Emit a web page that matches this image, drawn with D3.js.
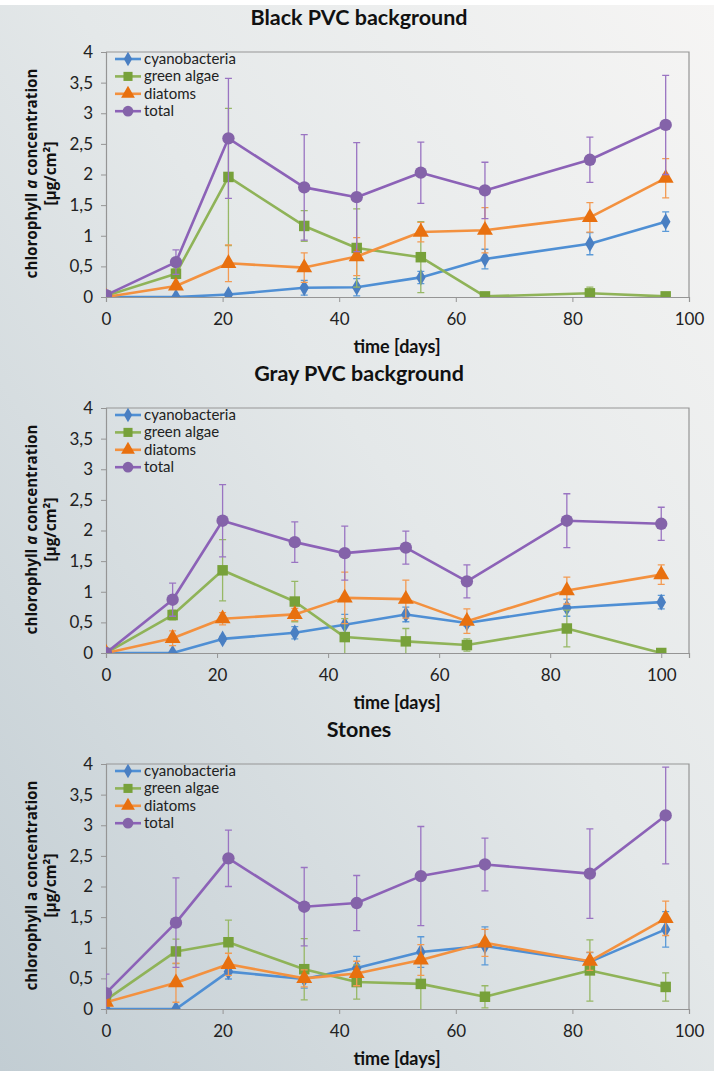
<!DOCTYPE html>
<html>
<head>
<meta charset="utf-8">
<script src="https://cdn.jsdelivr.net/npm/d3@7"></script>
<style>
  html, body { margin: 0; padding: 0; background: #ffffff; }
  svg { display: block; }
</style>
</head>
<body>
<script>
// ---- data -------------------------------------------------------------
const seriesNames = ["cyanobacteria", "green algae", "diatoms", "total"];
const panelTitles = ["Black PVC background", "Gray PVC background", "Stones"];
const xTicks = [0, 20, 40, 60, 80, 100];
const yTicks = [0, 0.5, 1, 1.5, 2, 2.5, 3, 3.5, 4];

// Black PVC background
const daysBlack = [0, 12, 21, 34, 43, 54, 65, 83, 96];
const cyanoBlack = [0, 0, 0.04, 0.15, 0.16, 0.32, 0.62, 0.87, 1.23];
const cyanoBlackErr = [0.01, 0.01, 0.03, 0.12, 0.14, 0.10, 0.16, 0.18, 0.16];
const greenBlack = [0.02, 0.38, 1.96, 1.16, 0.80, 0.65, 0.01, 0.06, 0.01];
const greenBlackErr = [0.01, 0.08, 1.12, 0.25, 0.64, 0.58, 0.02, 0.10, 0.02];
const diatomsBlack = [0, 0.18, 0.55, 0.48, 0.66, 1.06, 1.09, 1.30, 1.94];
const diatomsBlackErr = [0.01, 0.04, 0.30, 0.24, 0.31, 0.16, 0.37, 0.24, 0.32];
const totalBlack = [0.03, 0.57, 2.59, 1.79, 1.63, 2.03, 1.74, 2.24, 2.81];
const totalBlackErr = [0.02, 0.20, 0.98, 0.86, 0.89, 0.50, 0.46, 0.37, 0.81];

// Gray PVC background
const daysGray = [0, 12, 21, 34, 43, 54, 65, 83, 100];
const cyanoGray = [0, 0, 0.23, 0.33, 0.46, 0.63, 0.49, 0.74, 0.83];
const cyanoGrayErr = [0, 0.01, 0.04, 0.10, 0.17, 0.12, 0.05, 0.14, 0.11];
const greenGray = [0, 0.62, 1.35, 0.84, 0.26, 0.19, 0.13, 0.40, 0];
const greenGrayErr = [0, 0.08, 0.50, 0.33, 0.30, 0.21, 0.10, 0.30, 0.01];
const diatomsGray = [0, 0.24, 0.56, 0.63, 0.90, 0.88, 0.52, 1.02, 1.28];
const diatomsGrayErr = [0, 0.12, 0.10, 0.10, 0.42, 0.31, 0.20, 0.22, 0.16];
const totalGray = [0, 0.87, 2.16, 1.81, 1.63, 1.72, 1.17, 2.16, 2.11];
const totalGrayErr = [0, 0.27, 0.59, 0.33, 0.44, 0.27, 0.27, 0.44, 0.27];

// Stones
const daysStones = [0, 12, 21, 34, 43, 54, 65, 83, 96];
const cyanoStones = [0, 0, 0.61, 0.49, 0.67, 0.93, 1.03, 0.77, 1.30];
const cyanoStonesErr = [0.01, 0.01, 0.12, 0.15, 0.19, 0.25, 0.31, 0.15, 0.29];
const greenStones = [0.15, 0.94, 1.09, 0.65, 0.44, 0.41, 0.20, 0.63, 0.36];
const greenStonesErr = [0.10, 0.20, 0.36, 0.50, 0.28, 0.42, 0.18, 0.50, 0.23];
const diatomsStones = [0.11, 0.43, 0.73, 0.50, 0.58, 0.80, 1.08, 0.78, 1.48];
const diatomsStonesErr = [0.03, 0.32, 0.18, 0.14, 0.20, 0.25, 0.22, 0.15, 0.28];
const totalStones = [0.26, 1.41, 2.46, 1.67, 1.73, 2.17, 2.36, 2.21, 3.16];
const totalStonesErr = [0.31, 0.73, 0.46, 0.64, 0.45, 0.81, 0.43, 0.73, 0.79];

// ---- layout / style ---------------------------------------------------
const W = 714, H = 1071;
const lineColors   = ["#4f8fd4", "#8fb358", "#f3913f", "#8c62b7"];
const markerColors = ["#4a7fc2", "#77a13a", "#e8700f", "#8463a9"];
const errColors    = ["#5b9ad8", "#97b866", "#f39a52", "#9a74c2"];
const markerShapes = [d3.symbolDiamond, d3.symbolSquare, d3.symbolTriangle, d3.symbolCircle];
const markerSizes  = [80, 110, 110, 120];

const panels = [
  { title: panelTitles[0], top: 52,  xMax: 100, italicA: true,
    days: daysBlack,
    values: [cyanoBlack, greenBlack, diatomsBlack, totalBlack],
    errors: [cyanoBlackErr, greenBlackErr, diatomsBlackErr, totalBlackErr] },
  { title: panelTitles[1], top: 408, xMax: 105, italicA: true,
    days: daysGray,
    values: [cyanoGray, greenGray, diatomsGray, totalGray],
    errors: [cyanoGrayErr, greenGrayErr, diatomsGrayErr, totalGrayErr] },
  { title: panelTitles[2], top: 764, xMax: 100, italicA: false,
    days: daysStones,
    values: [cyanoStones, greenStones, diatomsStones, totalStones],
    errors: [cyanoStonesErr, greenStonesErr, diatomsStonesErr, totalStonesErr] }
];

const plotLeft = 106, plotRight = 689, plotH = 245;
const textFont = "Lato, 'Open Sans', sans-serif";
const labelFont = "'Open Sans', sans-serif";

const svg = d3.select("body").append("svg")
  .attr("width", W).attr("height", H)
  .attr("viewBox", `0 0 ${W} ${H}`);

// soft diagonal backdrop
const defs = svg.append("defs");
const grad = defs.append("linearGradient")
  .attr("id", "bg").attr("x1", "1").attr("y1", "0").attr("x2", "0").attr("y2", "1");
grad.append("stop").attr("offset", "0").attr("stop-color", "#f6f5f4");
grad.append("stop").attr("offset", "0.45").attr("stop-color", "#e4e8e9");
grad.append("stop").attr("offset", "1").attr("stop-color", "#c2cdd3");
svg.append("rect").attr("width", W).attr("height", H).attr("fill", "url(#bg)");
svg.append("rect").attr("width", W).attr("height", 5).attr("fill", "#ffffff");

// scale a text element's font so its run length equals `target`
function fitText(sel, baseSize, target) {
  const len = sel.node().getComputedTextLength();
  if (len > 0) sel.attr("font-size", baseSize * target / len);
}

panels.forEach((p, pi) => {
  const x = d3.scaleLinear().domain([0, p.xMax]).range([plotLeft, plotRight]);
  const y = d3.scaleLinear().domain([0, 4]).range([p.top + plotH, p.top]);
  const g = svg.append("g");

  const clipId = "clip" + pi;
  defs.append("clipPath").attr("id", clipId)
    .append("rect")
    .attr("x", plotLeft).attr("y", p.top - 1)
    .attr("width", plotRight - plotLeft).attr("height", plotH + 1);

  // title
  g.append("text")
    .attr("x", 359).attr("y", p.top - 27)
    .attr("text-anchor", "middle")
    .attr("font-family", textFont).attr("font-weight", "bold")
    .attr("font-size", 21.5).attr("fill", "#111")
    .text(p.title);

  // plot frame (top and right)
  g.append("path")
    .attr("d", `M${plotLeft},${p.top}H${plotRight}V${p.top + plotH}`)
    .attr("fill", "none").attr("stroke", "#959595").attr("stroke-width", 1.2);

  // axes
  const yAxis = d3.axisLeft(y).tickValues(yTicks).tickSize(5).tickPadding(8)
    .tickFormat(d => String(d).replace(".", ","));
  const gy = g.append("g").attr("transform", `translate(${plotLeft},0)`).call(yAxis);
  const xAxis = d3.axisBottom(x).tickValues(xTicks).tickSize(5).tickPadding(11);
  const gx = g.append("g").attr("transform", `translate(0,${p.top + plotH})`).call(xAxis);
  [gx, gy].forEach(a => {
    a.select(".domain").attr("stroke", "#959595").attr("stroke-width", 1.2);
    a.selectAll(".tick line").attr("stroke", "#959595");
    a.selectAll(".tick text")
      .attr("font-family", textFont).attr("font-size", 17).attr("fill", "#222");
  });

  // axis titles
  g.append("text")
    .attr("x", 397).attr("y", p.top + plotH + 56)
    .attr("text-anchor", "middle")
    .attr("font-family", textFont).attr("font-weight", "bold")
    .attr("font-size", 18).attr("fill", "#111")
    .text("time [days]");

  const cy = p.top + plotH / 2 - 1;
  const yl = g.append("text")
    .attr("transform", `translate(37,${cy}) rotate(-90)`)
    .attr("text-anchor", "middle")
    .attr("font-family", labelFont).attr("font-weight", "bold")
    .attr("font-size", 13.5).attr("fill", "#111");
  yl.append("tspan").text("chlorophyll ");
  yl.append("tspan").attr("font-style", p.italicA ? "italic" : "normal").text("a");
  yl.append("tspan").text(" concentration");
  fitText(yl, 13.5, 210);
  const yl2 = g.append("text")
    .attr("transform", `translate(56,${cy}) rotate(-90)`)
    .attr("text-anchor", "middle")
    .attr("font-family", labelFont).attr("font-weight", "bold")
    .attr("font-size", 13.5).attr("fill", "#111")
    .text("[µg/cm²]");
  fitText(yl2, 13.5, 64);

  // series: error bars, line, markers
  const plot = g.append("g").attr("clip-path", `url(#${clipId})`);
  const line = d3.line().x(d => x(d[0])).y(d => y(d[1]));
  seriesNames.forEach((name, si) => {
    const pts = p.days.map((d, i) => [d, p.values[si][i], p.errors[si][i]]);
    const sg = plot.append("g");
    const eb = sg.append("g")
      .attr("stroke", errColors[si]).attr("stroke-width", 1.3).attr("fill", "none");
    pts.forEach(([d, v, e]) => {
      const xx = x(d), y1 = y(v + e), y0 = y(v - e);
      eb.append("path").attr("d", `M${xx},${y0}V${y1}M${xx - 3.5},${y1}H${xx + 3.5}M${xx - 3.5},${y0}H${xx + 3.5}`);
    });
    sg.append("path").datum(pts).attr("d", line)
      .attr("fill", "none").attr("stroke", lineColors[si])
      .attr("stroke-width", 2.6).attr("stroke-linejoin", "round");
    sg.selectAll("path.mk").data(pts).join("path").attr("class", "mk")
      .attr("transform", d => `translate(${x(d[0])},${y(d[1])})`)
      .attr("d", d3.symbol().type(markerShapes[si]).size(markerSizes[si]))
      .attr("fill", markerColors[si]);
  });

  // legend
  const lg = g.append("g").attr("transform", `translate(115,${p.top + 7})`);
  seriesNames.forEach((name, si) => {
    const row = lg.append("g").attr("transform", `translate(0,${si * 17.4})`);
    row.append("line").attr("x1", 0).attr("x2", 26).attr("y1", 0).attr("y2", 0)
      .attr("stroke", lineColors[si]).attr("stroke-width", 2.6);
    row.append("path").attr("transform", "translate(13,0)")
      .attr("d", d3.symbol().type(markerShapes[si]).size(markerSizes[si] * 0.75))
      .attr("fill", markerColors[si]);
    row.append("text").attr("x", 29).attr("y", 5)
      .attr("font-family", textFont).attr("font-size", 15).attr("fill", "#222")
      .text(name);
  });
});
</script>
</body>
</html>
